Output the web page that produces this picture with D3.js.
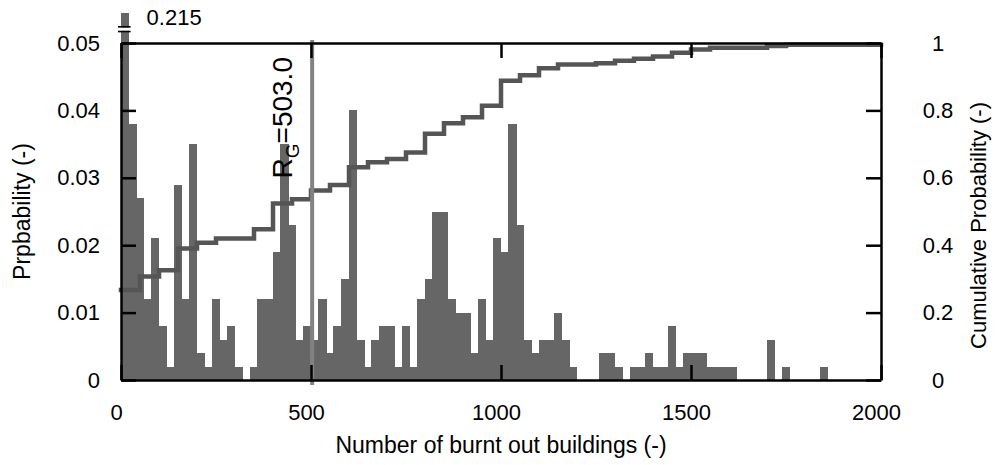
<!DOCTYPE html>
<html lang="en">
<head>
  <meta charset="UTF-8">
  <title>Burnt out buildings histogram</title>
  <script src="https://d3js.org/d3.v7.min.js"></script>
  <style>
    body {
      margin: 0;
      padding: 0;
      background-color: #fff;
      font-family: "Liberation Sans", Arial, sans-serif;
    }
    .axis path, .axis line {
      stroke: #000;
      stroke-width: 2.5px;
    }
    .axis text {
      font-family: "Liberation Sans", Arial, sans-serif;
      font-size: 22px;
      fill: #000;
    }
  </style>
</head>
<body>
  <svg id="chart"></svg>

  <script>
    // histogram: 20-building bins from 0 to 2000
    const binWidth = 20;
    const probability = [
      0.215, 0.038, 0.027, 0.012, 0.021, 0.008, 0.002, 0.029, 0.012, 0.035,
      0.004, 0.002, 0.012, 0.006, 0.008, 0.002, 0.000, 0.002, 0.012, 0.012,
      0.019, 0.035, 0.023, 0.006, 0.008, 0.006, 0.012, 0.004, 0.008, 0.015,
      0.040, 0.006, 0.002, 0.006, 0.008, 0.008, 0.002, 0.008, 0.002, 0.012,
      0.015, 0.025, 0.025, 0.012, 0.010, 0.010, 0.004, 0.012, 0.006, 0.021,
      0.019, 0.038, 0.023, 0.006, 0.004, 0.006, 0.006, 0.010, 0.006, 0.002,
      0.000, 0.000, 0.000, 0.004, 0.004, 0.002, 0.000, 0.002, 0.002, 0.004,
      0.002, 0.002, 0.008, 0.002, 0.004, 0.004, 0.004, 0.002, 0.002, 0.002,
      0.002, 0.000, 0.000, 0.000, 0.000, 0.006, 0.000, 0.002, 0.000, 0.000,
      0.000, 0.000, 0.002, 0.000, 0.000, 0.000, 0.000, 0.000, 0.000, 0.000
    ];

    // cumulative probability (step line, right axis)
    const cdfX = [0, 50, 100, 150, 200, 250, 350, 400, 450, 500, 550, 600, 650, 700,
                  750, 800, 850, 900, 950, 1000, 1050, 1100, 1150, 1250, 1300, 1350,
                  1400, 1450, 1500, 1550, 1700, 1750, 2000];
    const cdfP = [0.267, 0.307, 0.326, 0.390, 0.407, 0.420, 0.447, 0.524, 0.536, 0.562,
                  0.579, 0.631, 0.646, 0.656, 0.675, 0.731, 0.762, 0.780, 0.814, 0.888,
                  0.904, 0.925, 0.936, 0.940, 0.947, 0.953, 0.960, 0.971, 0.981, 0.986,
                  0.991, 0.995, 0.995];

    const xTicks = [0, 500, 1000, 1500, 2000];
    const yLeftTicks = [0, 0.01, 0.02, 0.03, 0.04, 0.05];
    const yLeftLabels = ["0", "0.01", "0.02", "0.03", "0.04", "0.05"];
    const yRightTicks = [0, 0.2, 0.4, 0.6, 0.8, 1];
    const yRightLabels = ["0", "0.2", "0.4", "0.6", "0.8", "1"];

    const rG = 503.0;
    const breakValue = 0.0545;   // first bar is cut here and labelled
    const firstBarLabel = "0.215";

    const W = 995, H = 465;
    const margin = {top: 43, right: 114, bottom: 85, left: 121};
    const plotW = W - margin.left - margin.right;
    const plotH = H - margin.top - margin.bottom;

    const svg = d3.select("#chart").attr("width", W).attr("height", H);
    const g = svg.append("g").attr("transform", `translate(${margin.left},${margin.top})`);

    const x = d3.scaleLinear().domain([0, 2000]).range([0, plotW]);
    const yL = d3.scaleLinear().domain([0, 0.05]).range([plotH, 0]);
    const yR = d3.scaleLinear().domain([0, 1]).range([plotH, 0]);

    // bars (drawn edge to edge, no seams)
    g.selectAll("rect.bar")
      .data(probability)
      .enter().append("rect")
      .attr("class", "bar")
      .attr("x", (d, i) => Math.floor(x(i * binWidth)))
      .attr("width", (d, i) => Math.ceil(x((i + 1) * binWidth)) - Math.floor(x(i * binWidth)))
      .attr("y", d => yL(Math.min(d, breakValue)))
      .attr("height", d => yL(0) - yL(Math.min(d, breakValue)))
      .attr("fill", "#666")
      .attr("shape-rendering", "crispEdges");

    // break marks on the first bar
    const bx0 = x(0) - 3, bx1 = x(binWidth) + 2;
    g.append("rect")
      .attr("x", bx0).attr("width", bx1 - bx0)
      .attr("y", yL(0.0523)).attr("height", yL(0.0518) - yL(0.0523))
      .attr("fill", "#fff");
    [0.0524, 0.0517].forEach(v => {
      g.append("line")
        .attr("x1", bx0).attr("x2", bx1)
        .attr("y1", yL(v)).attr("y2", yL(v))
        .attr("stroke", "#000").attr("stroke-width", 1.6);
    });
    g.append("text")
      .attr("x", x(binWidth) + 18)
      .attr("y", yL(breakValue) + 12)
      .attr("font-size", 22)
      .text(firstBarLabel);

    // cumulative step line
    const cdfLine = d3.line()
      .x(d => x(d[0]))
      .y(d => yR(d[1]))
      .curve(d3.curveStepAfter);
    g.append("path")
      .datum(cdfX.map((v, i) => [v, cdfP[i]]))
      .attr("d", cdfLine)
      .attr("fill", "none")
      .attr("stroke", "#555")
      .attr("stroke-width", 4.5)
      .attr("stroke-linecap", "square");

    // R_G marker
    g.append("line")
      .attr("x1", x(rG)).attr("x2", x(rG))
      .attr("y1", -3).attr("y2", plotH + 5)
      .attr("stroke", "#828282")
      .attr("stroke-width", 4);
    const rgText = g.append("text")
      .attr("transform", `translate(${x(rG) - 20},${yL(0.0299)}) rotate(-90)`)
      .attr("font-size", 28);
    rgText.append("tspan").text("R");
    rgText.append("tspan").attr("font-size", 19).attr("dy", 7).text("G");
    rgText.append("tspan").attr("dy", -7).text("=" + rG.toFixed(1));

    // axes, ticks pointing inward
    const xAxis = g.append("g").attr("class", "axis")
      .attr("transform", `translate(0,${plotH})`)
      .call(d3.axisBottom(x).tickValues(xTicks).tickSize(-15).tickSizeOuter(0).tickPadding(24)
        .tickFormat(d3.format("d")));
    xAxis.selectAll("text").attr("dx", -5);

    g.append("g").attr("class", "axis")
      .call(d3.axisTop(x).tickValues(xTicks).tickSize(-15).tickSizeOuter(0).tickFormat(""));

    g.append("g").attr("class", "axis")
      .call(d3.axisLeft(yL).tickValues(yLeftTicks).tickSize(-15).tickSizeOuter(0).tickPadding(21)
        .tickFormat((d, i) => yLeftLabels[i]));

    const rightAxis = g.append("g").attr("class", "axis")
      .attr("transform", `translate(${plotW},0)`)
      .call(d3.axisRight(yR).tickValues(yRightTicks).tickSize(-15).tickSizeOuter(0)
        .tickFormat((d, i) => yRightLabels[i]));
    rightAxis.selectAll("text").attr("x", 57).attr("text-anchor", "middle");

    // axis titles
    svg.append("text")
      .attr("x", margin.left + plotW / 2)
      .attr("y", 453)
      .attr("text-anchor", "middle")
      .attr("font-size", 23)
      .text("Number of burnt out buildings (-)");

    svg.append("text")
      .attr("transform", `translate(30,${margin.top + plotH / 2}) rotate(-90)`)
      .attr("text-anchor", "middle")
      .attr("font-size", 23)
      .text("Prpbability (-)");

    svg.append("text")
      .attr("transform", `translate(986,${margin.top + plotH / 2 + 14}) rotate(-90)`)
      .attr("text-anchor", "middle")
      .attr("font-size", 22)
      .text("Cumulative Probability (-)");
  </script>
</body>
</html>
